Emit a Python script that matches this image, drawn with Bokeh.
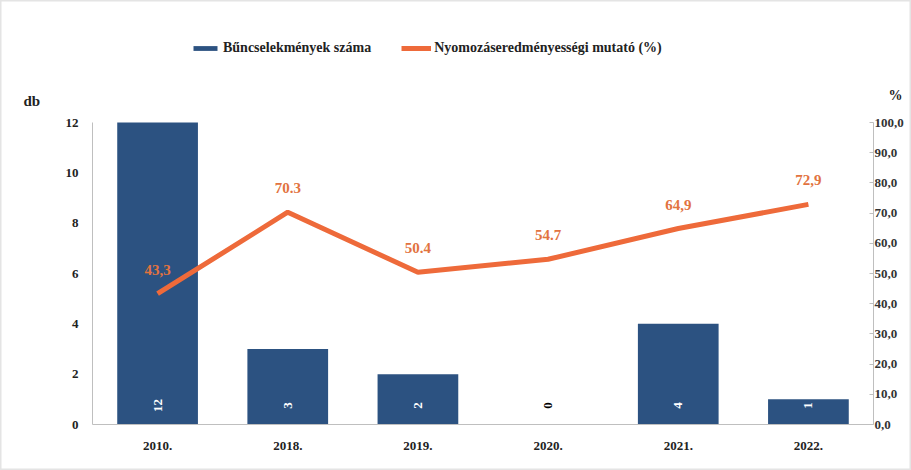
import math
from bokeh.plotting import figure
from bokeh.models import (ColumnDataSource, Range1d, LinearAxis, FixedTicker,
                          Legend, LegendItem, Label)
from bokeh.core.properties import value
from bokeh.embed import file_html
from bokeh.resources import INLINE

# ---- data ----
years = ["2010.", "2018.", "2019.", "2020.", "2021.", "2022."]
crime_counts = [12, 3, 2, 0, 4, 1]
clearance_rate = [43.3, 70.3, 50.4, 54.7, 64.9, 72.9]
clearance_labels = ["43,3", "70.3", "50.4", "54.7", "64,9", "72,9"]
left_ticks = [0, 2, 4, 6, 8, 10, 12]
right_ticks = [0, 10, 20, 30, 40, 50, 60, 70, 80, 90, 100]
right_tick_labels = ["0,0", "10,0", "20,0", "30,0", "40,0", "50,0",
                     "60,0", "70,0", "80,0", "90,0", "100,0"]
series_names = ["Bűncselekmények száma", "Nyomozáseredményességi mutató (%)"]
left_unit = "db"
right_unit = "%"

# ---- style / layout constants ----
FONT = "Liberation Serif"
BAR = "#2C5281"
ORANGE = "#EE6A3A"
LABEL_ORANGE = "#E2733F"
AXIS_GREY = "#BFBFBF"
TXT = "#222222"

W, H = 911, 470
PLOT_L, PLOT_R, PLOT_T, PLOT_B = 92, 873, 122, 424   # pixel box of the data area
Y_MAX, P_MAX = 12, 100

n = len(years)
x_pos = [i + 0.5 for i in range(n)]          # category centres

px_per_x = (PLOT_R - PLOT_L) / n
px_per_y = (PLOT_B - PLOT_T) / Y_MAX
x_range = Range1d(-PLOT_L / px_per_x, n + (W - PLOT_R) / px_per_x)
y_lo = -(H - PLOT_B) / px_per_y
y_hi = Y_MAX + PLOT_T / px_per_y
y_range = Range1d(y_lo, y_hi)
pct_range = Range1d(y_lo * P_MAX / Y_MAX, y_hi * P_MAX / Y_MAX)

src = ColumnDataSource(dict(
    x=x_pos,
    count=crime_counts,
    count_label=[str(v) for v in crime_counts],
    count_color=["white" if v > 0 else "black" for v in crime_counts],
    rate=clearance_rate,
    rate_label=clearance_labels,
))

p = figure(width=W, height=H, x_range=x_range, y_range=y_range,
           x_axis_type=None, y_axis_type=None,
           output_backend="svg", toolbar_location=None, min_border=0)
p.extra_y_ranges = {"pct": pct_range}
p.outline_line_color = "#E4E4E4"
p.outline_line_width = 2
p.background_fill_color = "white"
p.border_fill_color = "white"

bars = p.vbar(x="x", top="count", width=0.62, source=src,
              fill_color=BAR, line_color=None)

line = p.line(x="x", y="rate", source=src, y_range_name="pct",
              line_color=ORANGE, line_width=5)

p.text(x="x", y="rate", text="rate_label", source=src, y_range_name="pct",
       y_offset=-24, text_align="center", text_baseline="middle",
       text_color=LABEL_ORANGE, text_font=value(FONT),
       text_font_size="15px", text_font_style="bold")

p.text(x="x", y=0, text="count_label", source=src,
       angle=math.pi / 2, y_offset=-19, text_align="center",
       text_baseline="middle", text_color="count_color",
       text_font=value(FONT), text_font_size="13px", text_font_style="bold")

# left axis
ya = LinearAxis(fixed_location=0, bounds=(0, Y_MAX),
                ticker=FixedTicker(ticks=left_ticks))
ya.axis_line_color = AXIS_GREY
ya.major_tick_line_color = None
ya.minor_tick_line_color = None
ya.major_label_standoff = 8
ya.major_label_text_font = FONT
ya.major_label_text_font_size = "13px"
ya.major_label_text_font_style = "bold"
ya.major_label_text_color = TXT
p.add_layout(ya, "left")

# x axis (category labels)
xa = LinearAxis(fixed_location=0, bounds=(0, n),
                ticker=FixedTicker(ticks=x_pos),
                major_label_overrides=dict(zip(x_pos, years)))
xa.axis_line_color = AXIS_GREY
xa.major_tick_line_color = None
xa.minor_tick_line_color = None
xa.major_label_standoff = 11
xa.major_label_text_font = FONT
xa.major_label_text_font_size = "13px"
xa.major_label_text_font_style = "bold"
xa.major_label_text_color = TXT
p.add_layout(xa, "below")

# right axis
ra = LinearAxis(y_range_name="pct", fixed_location=n, bounds=(0, P_MAX),
                ticker=FixedTicker(ticks=right_ticks),
                major_label_overrides=dict(zip(right_ticks, right_tick_labels)))
ra.axis_line_color = AXIS_GREY
ra.major_tick_line_color = AXIS_GREY
ra.major_tick_in = 4
ra.major_tick_out = 0
ra.minor_tick_line_color = None
ra.major_label_standoff = 1
ra.major_label_text_font = FONT
ra.major_label_text_font_size = "13px"
ra.major_label_text_font_style = "bold"
ra.major_label_text_color = "#333333"
p.add_layout(ra, "right")

# unit captions
p.add_layout(Label(x=23, y=H - 100, x_units="screen", y_units="screen",
                   text=left_unit, text_align="left", text_baseline="middle",
                   text_font=FONT, text_font_size="15px",
                   text_font_style="bold", text_color=TXT))
p.add_layout(Label(x=888, y=H - 95, x_units="screen", y_units="screen",
                   text=right_unit, text_align="left", text_baseline="middle",
                   text_font=FONT, text_font_size="14px",
                   text_font_style="bold", text_color=TXT))

legend = Legend(items=[LegendItem(label=series_names[0], renderers=[bars]),
                       LegendItem(label=series_names[1], renderers=[line])],
                orientation="horizontal", location=(190, H - 56),
                glyph_width=30, glyph_height=6, label_standoff=3, spacing=30,
                padding=0, margin=0, border_line_color=None,
                background_fill_alpha=0,
                label_text_font=FONT, label_text_font_size="14px",
                label_text_font_style="bold", label_text_color=TXT)
p.add_layout(legend)

open("out.html", "w").write(file_html(p, INLINE))
